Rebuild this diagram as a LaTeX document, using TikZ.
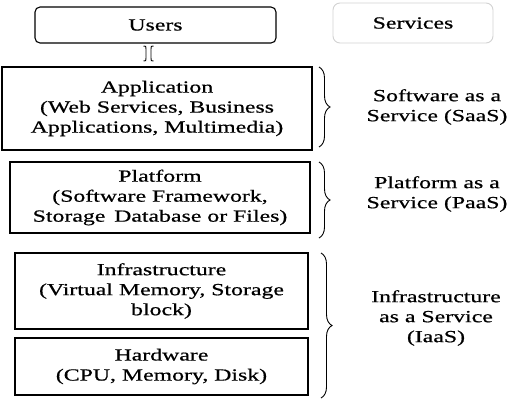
\documentclass[tikz,border=0pt]{standalone}
\usepackage{fontspec}
\setmainfont[FakeStretch=1.4,FakeBold=0.6]{Liberation Serif}
\usetikzlibrary{arrows.meta,decorations.pathreplacing}
\begin{document}
\begin{tikzpicture}[x=1pt,y=-1pt,
  txt/.style={font=\fontsize{17}{20}\selectfont, align=center, inner sep=0pt},
  layer/.style={txt, draw=black, line width=1.1pt, rectangle},
  br/.style={decorate, decoration={brace, amplitude=11pt}, line width=0.9pt},
  conn/.style={line width=0.9pt},
  lbl/.style={txt}]
\useasboundingbox (0,0) rectangle (508,400);
\node[layer, rounded corners=5pt, minimum width=241pt, minimum height=36pt] (users) at (155.5,25) {Users};
\node[txt, draw=gray!35, line width=0.9pt, rounded corners=7pt, minimum width=160pt, minimum height=40pt] (services) at (413,23) {Services};
\node[layer, minimum width=310pt, minimum height=83pt] (app) at (157,108.5) {Application\\(Web Services, Business\\Applications, Multimedia)};
\node[layer, minimum width=300pt, minimum height=71pt] (plat) at (160,197.5) {Platform\\(Software Framework,\\Storage\, Database or Files)};
\node[layer, minimum width=293pt, minimum height=76pt] (infra) at (161.5,291) {Infrastructure\\(Virtual Memory, Storage\\block)};
\node[layer, minimum width=293pt, minimum height=57pt] (hw) at (161.5,366.5) {Hardware\\(CPU, Memory, Disk)};
% double-line connector between Users and Application
\coordinate (at) at (148.5,46);
\coordinate (ab) at (148.5,61);
\draw[conn] ([xshift=-5pt]at) .. controls ([xshift=-2.5pt]at) .. ([xshift=-2.5pt,yshift=-3pt]at)
  -- ([xshift=-2.5pt,yshift=3pt]ab) .. controls ([xshift=-2.5pt]ab) .. ([xshift=-5pt]ab);
\draw[conn] ([xshift=5pt]at) .. controls ([xshift=2.5pt]at) .. ([xshift=2.5pt,yshift=-3pt]at)
  -- ([xshift=2.5pt,yshift=3pt]ab) .. controls ([xshift=2.5pt]ab) .. ([xshift=5pt]ab);
\coordinate (b1t) at (319,67); \coordinate (b1b) at (319,147);
\coordinate (b2t) at (319,162); \coordinate (b2b) at (319,238);
\coordinate (b3t) at (321,253); \coordinate (b3b) at (321,398);
\draw[br] (b1t) -- (b1b);
\draw[br] (b2t) -- (b2b);
\draw[br] (b3t) -- (b3b);
\node[lbl] (saas) at (437,107) {Software as a\\Service (SaaS)};
\node[lbl] (paas) at (437,194) {Platform as a\\Service (PaaS)};
\node[lbl] (iaas) at (436,318) {Infrastructure\\as a Service\\(IaaS)};
\end{tikzpicture}
\end{document}
